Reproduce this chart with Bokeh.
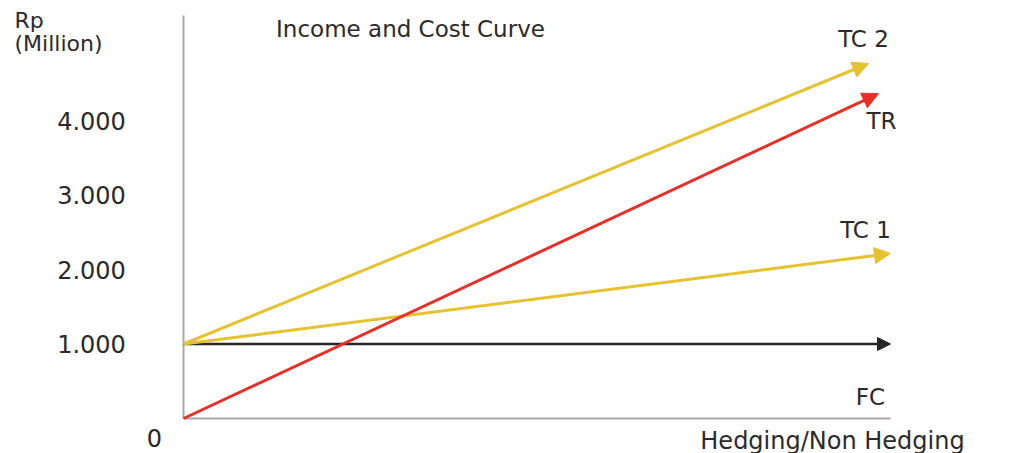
from bokeh.plotting import figure
from bokeh.models import Range1d, Arrow, NormalHead, Label, ColumnDataSource
from bokeh.core.properties import value
from bokeh.embed import file_html
from bokeh.resources import INLINE

# ---------------- data ----------------
series_names = ["FC", "TC 1", "TC 2", "TR"]
x_start = [0, 0, 0, 0]
y_start = [1000, 1000, 1000, 0]
x_end = [100, 100, 96.9, 98.3]
y_end = [1000, 2215, 4765, 4360]

tick_values = [1000, 2000, 3000, 4000]
tick_labels = ["1.000", "2.000", "3.000", "4.000"]
zero_value = [0]
zero_label = ["0"]

# ---------------- layout helpers ----------------
W, H = 1014, 453
PX0, PX_PER_X = 183.0, 7.07      # pixel of x=0, pixels per x unit
PY0, PY_PER_Y = 418.0, 0.0745    # pixel of y=0, pixels per y unit


def to_x(px):
    return (px - PX0) / PX_PER_X


def to_y(py):
    return (PY0 - py) / PY_PER_Y


p = figure(width=W, height=H, output_backend="svg", toolbar_location=None,
           x_axis_type=None, y_axis_type=None,
           x_range=Range1d(to_x(0), to_x(W)), y_range=Range1d(to_y(H), to_y(0)),
           min_border=0, min_border_left=0, min_border_right=0,
           min_border_top=0, min_border_bottom=0)
p.outline_line_color = None
p.grid.visible = False
p.background_fill_color = "white"
p.border_fill_color = "white"

FONT = "DejaVu Sans"
TXT = "#2a2a2a"
AXIS = "#a8a8a8"

# axis lines (y axis and x axis)
p.segment(x0=[0, 0], y0=[0, 0], x1=[0, x_end[0]], y1=[to_y(15), 0],
          line_color=AXIS, line_width=2)

colors = {"FC": "#262626", "TC 1": "#E6C230", "TC 2": "#E6C230", "TR": "#E8302A"}
widths = {"FC": 2.5, "TC 1": 3, "TC 2": 3, "TR": 3}
heads = {"FC": 13, "TC 1": 16, "TC 2": 16, "TR": 16}

for name, xs, ys, xe, ye in zip(series_names, x_start, y_start, x_end, y_end):
    c = colors[name]
    p.add_layout(Arrow(end=NormalHead(size=heads[name], fill_color=c, line_color=c, line_width=1),
                       x_start=xs, y_start=ys, x_end=xe, y_end=ye,
                       line_color=c, line_width=widths[name]))

# tick labels
tsrc = ColumnDataSource(dict(x=[to_x(91)] * len(tick_values), y=tick_values, t=tick_labels))
p.text(x="x", y="y", text="t", source=tsrc, text_font=value(FONT), text_font_size="24px",
       text_color=TXT, text_align="center", text_baseline="middle")
zsrc = ColumnDataSource(dict(x=[to_x(154)], y=zero_value, t=zero_label))
p.text(x="x", y="y", text="t", source=zsrc, text_font=value(FONT), text_font_size="24px",
       text_color=TXT, text_align="center", text_baseline="middle", y_offset=19)


def lab(text, px, py, align="center", size="22px"):
    p.add_layout(Label(x=to_x(px), y=to_y(py), text=text, text_font=FONT,
                       text_font_size=size, text_color=TXT, text_align=align,
                       text_baseline="middle"))


lab("Rp", 14, 20, align="left")
lab("(Million)", 14, 43, align="left")
lab("Income and Cost Curve", 410, 28, size="23px")
lab("TC 2", 863, 38, size="23px")
lab("TR", 881, 120, size="23px")
lab("TC 1", 865, 229, size="23px")
lab("FC", 870, 396, size="23px")
lab("Hedging/Non Hedging", 832, 440, size="24px")

open("out.html", "w").write(file_html(p, INLINE))
